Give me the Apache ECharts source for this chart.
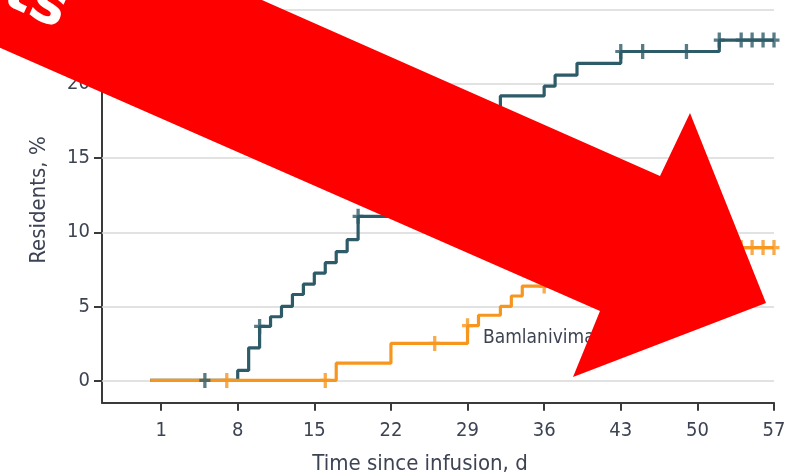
<!DOCTYPE html>
<html>
<head>
<meta charset="utf-8">
<script src="https://cdn.jsdelivr.net/npm/echarts@6/dist/echarts.min.js"></script>
<style>
  html, body { margin: 0; padding: 0; background: #fff; }
  #chart { width: 798px; height: 476px; }
</style>
</head>
<body>
<div id="chart"></div>
<script>
  // tick labels
  const xTicks = [1, 8, 15, 22, 29, 36, 43, 50, 57];
  const yTicks = [0, 5, 10, 15, 20, 25];

  // cumulative incidence steps, [day, %]
  const placeboSteps = [[0, 0], [8, 0.68], [9, 2.2], [10, 3.65], [11, 4.3], [12, 5.0], [13, 5.8], [14, 6.5],
    [15, 7.25], [16, 7.95], [17, 8.7], [18, 9.5], [19, 11.08], [24, 13.0], [27, 15.0], [30, 17.0],
    [32, 19.2], [36, 19.86], [37, 20.6], [39, 21.4], [43, 22.2], [52, 22.97], [57, 22.97]];
  const placeboCensor = [[5, 0], [10, 3.65], [19, 11.08], [43, 22.2], [45, 22.2], [49, 22.2],
    [52, 22.97], [54, 22.97], [55, 22.97], [56, 22.97], [57, 22.97]];

  const bamSteps = [[0, 0], [17, 1.17], [22, 2.5], [29, 3.7], [30, 4.4], [32, 5.0], [33, 5.7], [34, 6.37],
    [38, 7.2], [42, 8.0], [47, 8.97], [57, 8.97]];
  const bamCensor = [[7, 0], [16, 0], [26, 2.5], [29, 3.7], [36, 6.37], [54, 8.97], [55, 8.97], [56, 8.97], [57, 8.97]];

  const textColor = '#3d4353';
  const font = "'Liberation Sans Narrow', 'DejaVu Sans Condensed', sans-serif";
  const plus = 'path://M0,5.5h10v3h-10z M3.5,0h3v14h-3z';

  const chart = echarts.init(document.getElementById('chart'));
  chart.setOption({
    animation: false,
    grid: { left: 102, right: 24, top: 9.5, bottom: 73.3 },
    xAxis: {
      type: 'value',
      min: -4.4,
      max: 57,
      axisLine: { onZero: false, lineStyle: { color: '#3a3a3a', width: 2 } },
      axisTick: { customValues: xTicks, length: 8, lineStyle: { color: '#3a3a3a', width: 2 } },
      axisLabel: { customValues: xTicks, margin: 18, fontSize: 20, color: textColor, fontFamily: font },
      splitLine: { show: false }
    },
    yAxis: {
      type: 'value',
      min: -1.5,
      max: 25,
      axisLine: { show: true, onZero: false, lineStyle: { color: '#3a3a3a', width: 2 } },
      axisTick: { show: true, customValues: yTicks, length: 8, lineStyle: { color: '#3a3a3a', width: 2 } },
      axisLabel: { customValues: yTicks, margin: 12, fontSize: 20, color: textColor, fontFamily: font },
      splitLine: { show: false }
    },
    series: [
      {
        // gridlines
        type: 'line',
        data: [],
        z: 1,
        markLine: {
          silent: true,
          z: 1,
          symbol: ['none', 'none'],
          label: { show: false },
          lineStyle: { color: '#d9d9d9', width: 1.5, type: 'solid' },
          data: yTicks.map(v => ({ yAxis: v }))
        }
      },
      {
        name: 'Placebo',
        type: 'line',
        step: 'end',
        data: placeboSteps,
        showSymbol: false,
        z: 3,
        lineStyle: { color: '#2e5b68', width: 3.2 }
      },
      {
        name: 'Bamlanivimab',
        type: 'line',
        step: 'end',
        data: bamSteps,
        showSymbol: false,
        z: 3,
        lineStyle: { color: '#f7961e', width: 3.2 }
      },
      {
        type: 'scatter',
        data: bamCensor,
        symbol: plus,
        symbolSize: [11, 15],
        z: 4,
        itemStyle: { color: '#f7961e' }
      },
      {
        type: 'scatter',
        data: placeboCensor,
        symbol: plus,
        symbolSize: [11, 15],
        z: 4,
        itemStyle: { color: '#2e5b68' }
      }
    ],
    graphic: [
      {
        type: 'text', x: 483, y: 338, z: 50,
        style: { text: 'Bamlanivimab', fontSize: 19, fontFamily: font, fill: textColor, verticalAlign: 'middle' }
      },
      {
        type: 'text', x: 420, y: 464, z: 50,
        style: { text: 'Time since infusion, d', fontSize: 22, fontFamily: font, fill: textColor, align: 'center', verticalAlign: 'middle' }
      },
      {
        type: 'text', x: 39, y: 200, z: 50, rotation: Math.PI / 2,
        style: { text: 'Residents, %', fontSize: 22, fontFamily: font, fill: textColor, align: 'center', verticalAlign: 'middle' }
      },
      {
        // red arrow overlay
        type: 'polygon', z: 100,
        shape: { points: [[-100, -160], [660, 176], [690, 113], [766, 303], [573, 377], [600, 311], [-100, 4]] },
        style: { fill: '#ff0000' }
      },
      {
        type: 'text', x: 6, y: -12, z: 101, rotation: -0.42,
        style: { text: 'ts', fontSize: 60, fontWeight: 'bold', fontFamily: 'DejaVu Sans', fill: '#ffffff', align: 'left', verticalAlign: 'middle' }
      }
    ]
  });
</script>
</body>
</html>
